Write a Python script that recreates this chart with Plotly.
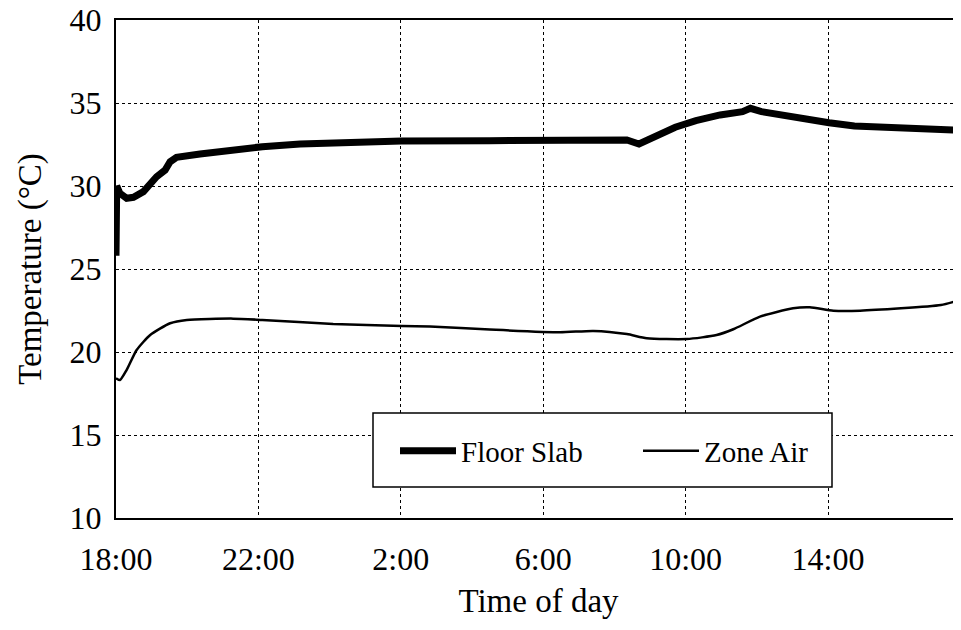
import plotly.graph_objects as go

# Hours elapsed since 18:00
floor_t = [0, 0.02, 0.11, 0.3, 0.49, 0.77, 1.14, 1.38, 1.52, 1.7, 2.36, 3.29, 4.11, 5.17, 6.1,
           8.02, 10.48, 11.98, 14.35, 14.69, 15.13, 15.71, 16.29, 16.97, 17.6, 17.82, 18.13,
           19.19, 20.03, 20.74, 22.1, 23.26, 23.55, 23.72]
floor_v = [25.8, 30.0, 29.56, 29.26, 29.32, 29.66, 30.56, 30.96, 31.46, 31.73, 31.93, 32.17,
           32.37, 32.53, 32.61, 32.71, 32.73, 32.77, 32.77, 32.53, 32.97, 33.54, 33.94, 34.28,
           34.48, 34.68, 34.48, 34.08, 33.81, 33.61, 33.47, 33.4, 33.37, 33.75]

zone_t = [0, 0.11, 0.3, 0.58, 0.96, 1.52, 1.99, 3.29, 4.11, 6.1, 8.03, 8.82, 10.5, 12.47,
          13.41, 14.35, 14.91, 16.03, 16.87, 17.34, 18.09, 19.02, 19.49, 20.15, 20.9, 23.17, 23.65]
zone_v = [18.42, 18.31, 18.92, 20.12, 21.02, 21.73, 21.93, 22.01, 21.93, 21.69, 21.57, 21.53,
          21.35, 21.19, 21.27, 21.08, 20.83, 20.78, 21.02, 21.37, 22.13, 22.63, 22.69, 22.49,
          22.49, 22.83, 23.1]

tick_vals = [0, 4, 8, 12, 16, 20]
tick_text = ["18:00", "22:00", "2:00", "6:00", "10:00", "14:00"]

FONT = "Liberation Serif, Times New Roman, serif"

fig = go.Figure()
fig.add_trace(go.Scatter(x=floor_t, y=floor_v, mode="lines", name="Floor Slab",
                         line=dict(color="black", width=7)))
fig.add_trace(go.Scatter(x=zone_t, y=zone_v, mode="lines", name="Zone Air",
                         line=dict(color="black", width=2.5, shape="spline", smoothing=0.6)))

OFF = 8  # page body margin of the browser
W, H = 961 - OFF, 630 - OFF
L, R, T = 116 - OFF, 0, 20 - OFF
pw = W - L - R
ph = 498
B = H - T - ph

# helpers converting reference-page pixels into paper fractions
def px_x(x):
    return (x - OFF - L) / pw

def px_y(y):
    return (H - B - (y - OFF)) / ph

fig.update_layout(
    width=W, height=H,
    margin=dict(l=L, r=R, t=T, b=B, autoexpand=False),
    paper_bgcolor="white", plot_bgcolor="white",
    font=dict(family=FONT, size=28, color="black"),
    showlegend=True,
    legend=dict(orientation="h", x=px_x(395), y=px_y(451), xanchor="left", yanchor="middle",
                bgcolor="rgba(0,0,0,0)", borderwidth=0, font=dict(size=29),
                itemwidth=56, entrywidth=172, entrywidthmode="pixels"),
    shapes=[dict(type="rect", xref="paper", yref="paper",
                 x0=px_x(373), x1=px_x(832), y0=px_y(487), y1=px_y(413),
                 line=dict(color="black", width=1.5), fillcolor="white", layer="above")],
    xaxis=dict(range=[0, 845 / 35.6], tickvals=tick_vals, ticktext=tick_text,
               showgrid=True, gridcolor="black", gridwidth=1, griddash="dot",
               showline=True, linecolor="black", linewidth=2, mirror=True,
               ticks="", ticklabelstandoff=12, zeroline=False, automargin=False,
               tickfont=dict(size=32),
               title=dict(text="Time of day", standoff=12, font=dict(size=33))),
    yaxis=dict(range=[10, 40], dtick=5,
               showgrid=True, gridcolor="black", gridwidth=1, griddash="dot",
               showline=True, linecolor="black", linewidth=2, mirror=False,
               ticks="", ticklabelstandoff=6, zeroline=False, ticklabeloverflow="allow",
               automargin=False,
               tickfont=dict(size=32),
               title=dict(text="Temperature (°C)", standoff=18, font=dict(size=33))),
)

fig.write_html("out.html")
